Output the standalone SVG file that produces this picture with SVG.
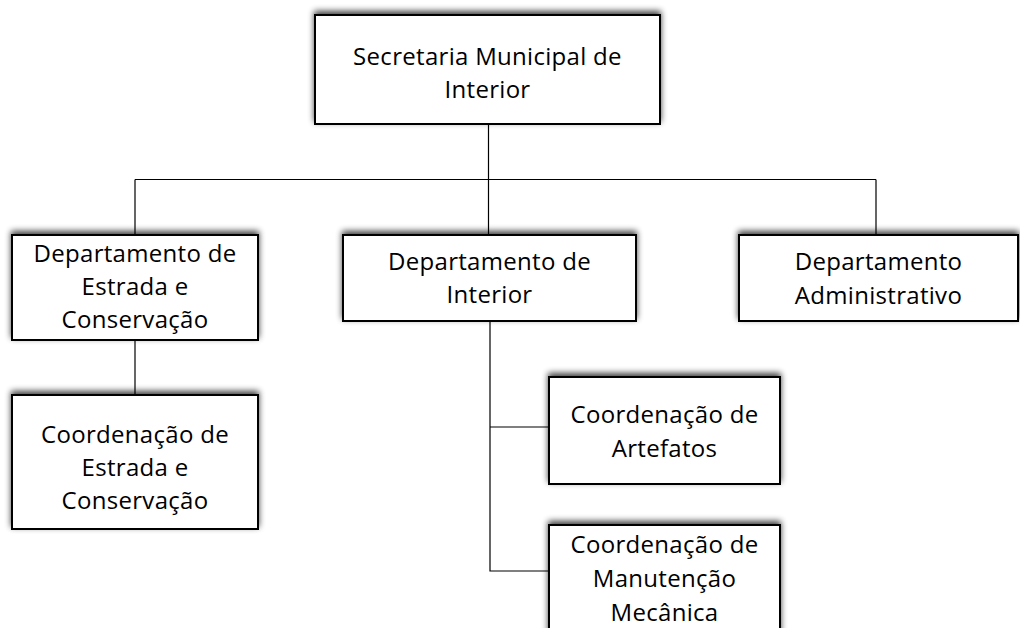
<svg xmlns="http://www.w3.org/2000/svg" width="1020" height="628" viewBox="0 0 1020 628">
<defs>
<filter id="sh" x="-10%" y="-30%" width="120%" height="160%">
<feGaussianBlur in="SourceAlpha" stdDeviation="3" result="b"/>
<feOffset in="b" dx="0" dy="-3" result="o"/>
<feComponentTransfer in="o" result="s"><feFuncA type="linear" slope="0.75"/></feComponentTransfer>
<feMerge><feMergeNode in="s"/><feMergeNode in="SourceGraphic"/></feMerge>
</filter>
</defs>
<style>
.box{fill:#fff;stroke:#000;stroke-width:2;filter:url(#sh)}
.t{font-family:"Open Sans","Noto Sans",sans-serif;font-size:24px;letter-spacing:0.3px;fill:#000;text-anchor:middle}
.c{fill:none;stroke:#000;stroke-width:1.2}
</style>
<rect width="1020" height="628" fill="#fff"/>
<g id="connectors">
<path class="c" d="M488.5 124V179.5M135 179.5H876M135 179.5V235M488.5 179.5V235M876 179.5V235"/>
<path class="c" d="M135 340V395"/>
<path class="c" d="M490 321V571H549M490 427H549"/>
</g>
<g id="n1"><rect class="box" x="315" y="15" width="345" height="109"/>
<text class="t" x="487.5" y="65">Secretaria Municipal de</text><text class="t" x="487.5" y="98">Interior</text></g>
<g id="n2"><rect class="box" x="12" y="235" width="246" height="105"/>
<text class="t" x="135" y="262">Departamento de</text><text class="t" x="135" y="295">Estrada e</text><text class="t" x="135" y="328">Conservação</text></g>
<g id="n3"><rect class="box" x="343" y="235" width="293" height="86"/>
<text class="t" x="489.5" y="270">Departamento de</text><text class="t" x="489.5" y="303">Interior</text></g>
<g id="n4"><rect class="box" x="739" y="235" width="279" height="86"/>
<text class="t" x="878.5" y="270">Departamento</text><text class="t" x="878.5" y="304">Administrativo</text></g>
<g id="n5"><rect class="box" x="12" y="395" width="246" height="134"/>
<text class="t" x="135" y="443">Coordenação de</text><text class="t" x="135" y="476">Estrada e</text><text class="t" x="135" y="509">Conservação</text></g>
<g id="n6"><rect class="box" x="549" y="377" width="231" height="107"/>
<text class="t" x="664.5" y="423">Coordenação de</text><text class="t" x="664.5" y="457">Artefatos</text></g>
<g id="n7"><rect class="box" x="549" y="525" width="231" height="120"/>
<text class="t" x="664.5" y="553">Coordenação de</text><text class="t" x="664.5" y="587">Manutenção</text><text class="t" x="664.5" y="621">Mecânica</text></g>
</svg>
